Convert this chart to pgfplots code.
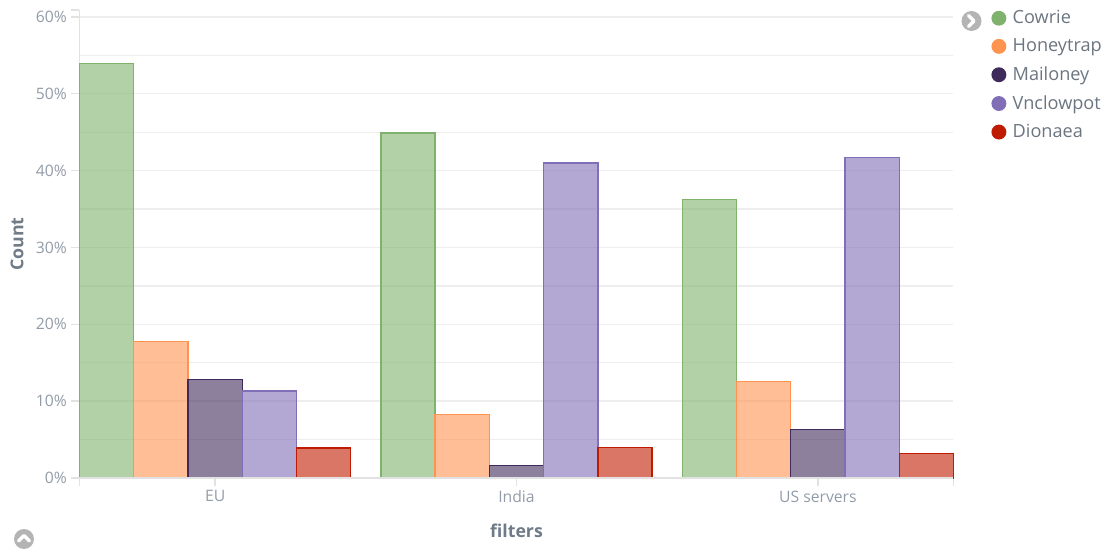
\documentclass[border=0pt]{standalone}
\usepackage{pgfplots}
\pgfplotsset{compat=1.18}
\usepackage{fontspec}
\setmainfont{Open Sans}
\definecolor{cowrie}{HTML}{7EB26D}
\definecolor{honeytrap}{HTML}{FF9350}
\definecolor{mailoney}{HTML}{3F2B5B}
\definecolor{vnclowpot}{HTML}{806EB7}
\definecolor{dionaea}{HTML}{BF1B00}
\definecolor{ticktext}{HTML}{929CA8}
\definecolor{titletext}{HTML}{6F7B87}
\definecolor{legendtext}{HTML}{6B7580}
\definecolor{axisline}{HTML}{E2E2E2}
\definecolor{gridline}{HTML}{EEEEEE}
\definecolor{iconfill}{HTML}{B4B4B4}
\pgfplotsset{
  dot/.style={legend image code/.code={\fill[##1,fill opacity=1,draw=none] (0pt,0em) circle (5.6pt);\path (7.85pt,0pt);}},
  serie/.style={draw=#1,fill=#1,fill opacity=0.6,line width=1pt,dot},
}
\begin{document}
\begin{tikzpicture}[x=0.75pt,y=0.75pt]
\useasboundingbox (0,0) rectangle (1108,551);
\begin{axis}[
  at={(59.625pt,54.75pt)}, anchor=south west, scale only axis,
  width=655.5pt, height=351pt,
  xmin=-0.45, xmax=2.45, ymin=0, ymax=60.9,
  ybar=0pt, bar width=0.18,
  xtick={0,1,2}, xticklabels={EU,India,US servers},
  extra x ticks={-0.45,2.45}, extra x tick labels={},
  ytick={0,10,20,30,40,50,60},
  yticklabels={0\%,10\%,20\%,30\%,40\%,50\%,60\%},
  minor ytick={5,15,25,35,45,55},
  extra y ticks={60.9}, extra y tick labels={},
  extra y tick style={grid=none},
  ymajorgrids, yminorgrids,
  major grid style={gridline,line width=1pt},
  minor grid style={gridline,line width=1pt},
  minor tick length=0pt,
  axis line style={axisline,line width=1pt},
  axis x line*=bottom, axis y line*=left,
  x axis line style={-}, y axis line style={-},
  tick style={axisline,line width=1pt},
  major tick length=6pt,
  tick align=outside,
  tick label style={font=\fontsize{11.8pt}{14pt}\selectfont,text=ticktext},
  xlabel={filters}, ylabel={Count},
  x label style={at={(axis description cs:0.5,-0.113)},anchor=center,
    font=\fontsize{13.3pt}{15pt}\selectfont\bfseries,text=titletext},
  y label style={at={(axis description cs:-0.0715,0.5)},anchor=center,
    font=\fontsize{13.3pt}{15pt}\selectfont\bfseries,text=titletext},
  legend style={
    draw=none, fill=none,
    font=\fontsize{13.6pt}{15pt}\selectfont,text=legendtext,
    legend cell align=left,
    row sep=5.75pt,
    at={(rel axis cs:1.0,1.0)},anchor=north west,xshift=25.25pt,yshift=3.75pt,
  },
  clip=false,
]
\addplot+[serie=cowrie] coordinates {(0,53.9) (1,44.9) (2,36.2)};
\addplot+[serie=honeytrap] coordinates {(0,17.8) (1,8.3) (2,12.6)};
\addplot+[serie=mailoney] coordinates {(0,12.8) (1,1.6) (2,6.3)};
\addplot+[serie=vnclowpot] coordinates {(0,11.3) (1,41.0) (2,41.7)};
\addplot+[serie=dionaea] coordinates {(0,3.9) (1,4.0) (2,3.2)};
\legend{Cowrie,Honeytrap,Mailoney,Vnclowpot,Dionaea}
% baseline redrawn so that it stays above the bar outlines
\draw[axisline,line width=1.3pt] (rel axis cs:0,0) -- (rel axis cs:1,0);
\end{axis}
% collapse controls beside the legend and under the axis
\fill[iconfill] (971.5,530) circle (10);
\draw[white,line width=2.4pt,line cap=round,line join=round] (968.5,535.5) -- (974,530) -- (968.5,524.5);
\fill[iconfill] (24,12) circle (10);
\draw[white,line width=2.4pt,line cap=round,line join=round] (18.5,10) -- (24,15.5) -- (29.5,10);
\end{tikzpicture}
\end{document}
